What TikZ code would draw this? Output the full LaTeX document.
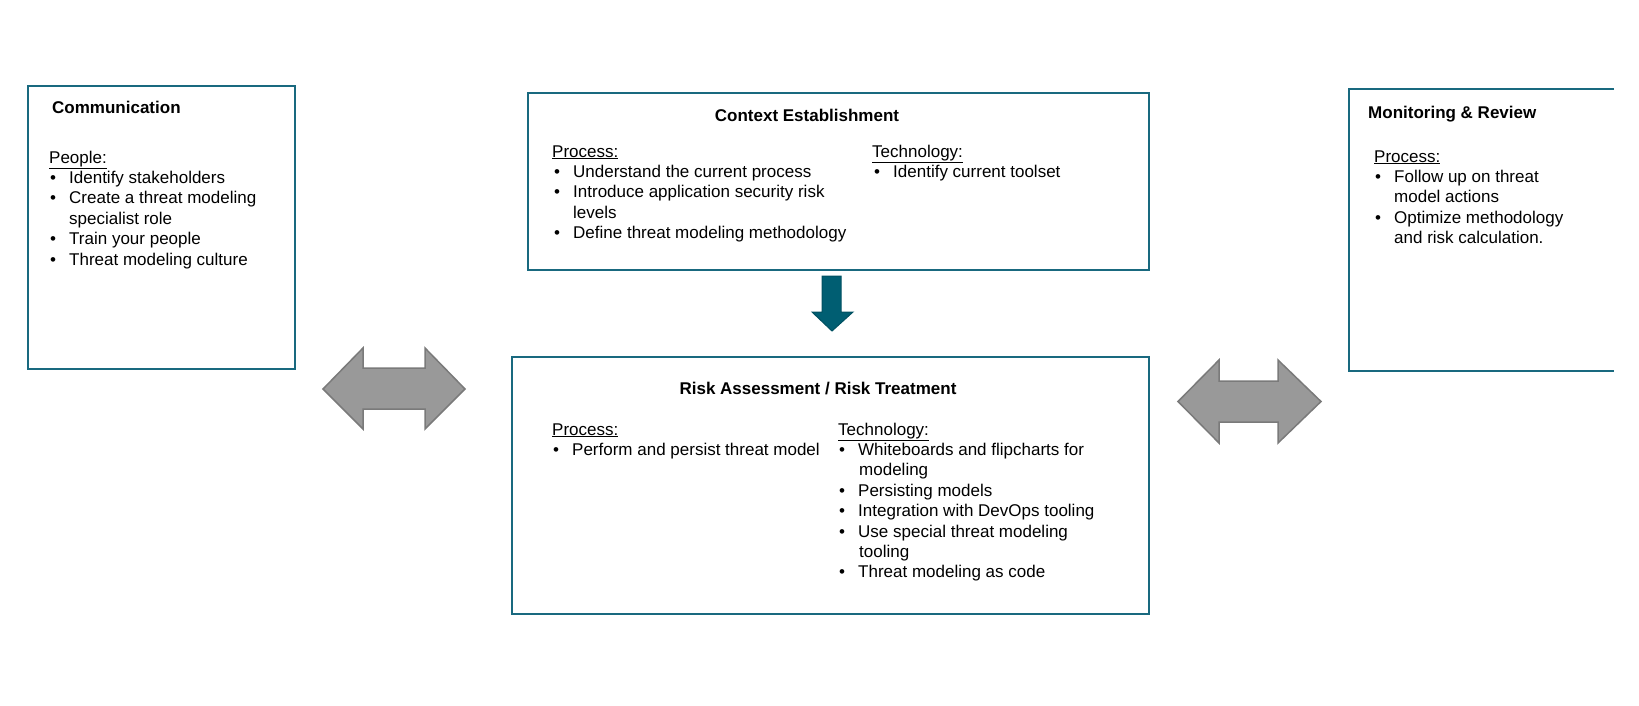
\documentclass[tikz,border=0pt]{standalone}
\usepackage{fontspec}
\setmainfont{Liberation Sans}
\definecolor{boxteal}{RGB}{25,105,127}
\definecolor{arrowteal}{RGB}{0,94,114}
\definecolor{arrowgray}{RGB}{153,153,153}
\definecolor{arrowedge}{RGB}{122,122,122}
\newcommand{\bul}{\makebox[17pt][l]{\kern-2pt\textbullet}}
\begin{document}
\begin{tikzpicture}[x=1pt,y=-1pt,
  box/.style={draw=boxteal, line width=2.4pt, inner sep=0pt},
  txt/.style={anchor=base west, inner sep=0pt, font=\fontsize{17}{20.4}\selectfont},
  ttl/.style={inner sep=0pt, font=\fontsize{17}{20.4}\selectfont\bfseries},
  garrow/.style={fill=arrowgray, draw=arrowedge, line width=1.5pt, line join=miter},
  darrow/.style={fill=arrowteal, draw=arrowteal!85!black, line width=1pt, line join=miter}]
\useasboundingbox (0,0) rectangle (1639,705);

% boxes
\node[box, minimum width=267pt, minimum height=283pt] (comm) at (161.5,227.5) {};
\node[box, minimum width=621pt, minimum height=177pt] (ctx) at (838.5,181.5) {};
\node[box, minimum width=637pt, minimum height=257pt] (risk) at (830.5,485.5) {};
\node[inner sep=0pt, minimum width=265pt, minimum height=282pt] (mon) at (1481.5,230) {};
\draw[draw=boxteal, line width=2.4pt] (mon.north east) -- (mon.north west) -- (mon.south west) -- (mon.south east);

% Communication
\node[ttl, anchor=base west] (commT) at (52,113) {Communication};
\node[txt] (commP) at (49,163) {\underline{People:}};
\node[txt] (comm1) at (52,183.4) {\bul Identify stakeholders};
\node[txt] (comm2) at (52,203.8) {\bul Create a threat modeling};
\node[txt] (comm3) at (69,224.2) {specialist role};
\node[txt] (comm4) at (52,244.6) {\bul Train your people};
\node[txt] (comm5) at (52,265) {\bul Threat modeling culture};

% Context Establishment
\node[ttl, anchor=base] (ctxT) at (807,121) {Context Establishment};
\node[txt] (ctxP) at (552,157) {\underline{Process:}};
\node[txt] (ctx1) at (556,177.4) {\bul Understand the current process};
\node[txt] (ctx2) at (556,197.8) {\bul Introduce application security risk};
\node[txt] (ctx3) at (573,218.2) {levels};
\node[txt] (ctx4) at (556,238.6) {\bul Define threat modeling methodology};
\node[txt] (ctxTe) at (872,157) {\underline{Technology:}};
\node[txt] (ctx5) at (876,177.4) {\bul Identify current toolset};

% Risk Assessment
\node[ttl, anchor=base] (riskT) at (818,394) {Risk Assessment / Risk Treatment};
\node[txt] (riskP) at (552,435) {\underline{Process:}};
\node[txt] (risk1) at (555,455.4) {\bul Perform and persist threat model};
\node[txt] (riskTe) at (838,435) {\underline{Technology:}};
\node[txt] (risk2) at (841,455.4) {\bul Whiteboards and flipcharts for};
\node[txt] (risk3) at (859,475.8) {modeling};
\node[txt] (risk4) at (841,496.2) {\bul Persisting models};
\node[txt] (risk5) at (841,516.6) {\bul Integration with DevOps tooling};
\node[txt] (risk6) at (841,537) {\bul Use special threat modeling};
\node[txt] (risk7) at (859,557.4) {tooling};
\node[txt] (risk8) at (841,577.8) {\bul Threat modeling as code};

% Monitoring & Review
\node[ttl, anchor=base west] (monT) at (1368,118) {Monitoring \& Review};
\node[txt] (monP) at (1374,162) {\underline{Process:}};
\node[txt] (mon1) at (1377,182.4) {\bul Follow up on threat};
\node[txt] (mon2) at (1394,202.8) {model actions};
\node[txt] (mon3) at (1377,223.2) {\bul Optimize methodology};
\node[txt] (mon4) at (1394,243.6) {and risk calculation.};

% block arrows
\draw[darrow] (832,331) -- (853,312) -- (841,312) -- (841,276) -- (822,276) -- (822,312) -- (812,312) -- cycle;
\draw[garrow] (323,389) -- (363,348) -- (363,368) -- (425,368) -- (425,348) -- (465,389)
  -- (425,429) -- (425,409) -- (363,409) -- (363,429) -- cycle;
\draw[garrow] (1178,401.5) -- (1219,360) -- (1219,381) -- (1278,381) -- (1278,360) -- (1321,401.5)
  -- (1278,443) -- (1278,422) -- (1219,422) -- (1219,443) -- cycle;
\end{tikzpicture}
\end{document}
